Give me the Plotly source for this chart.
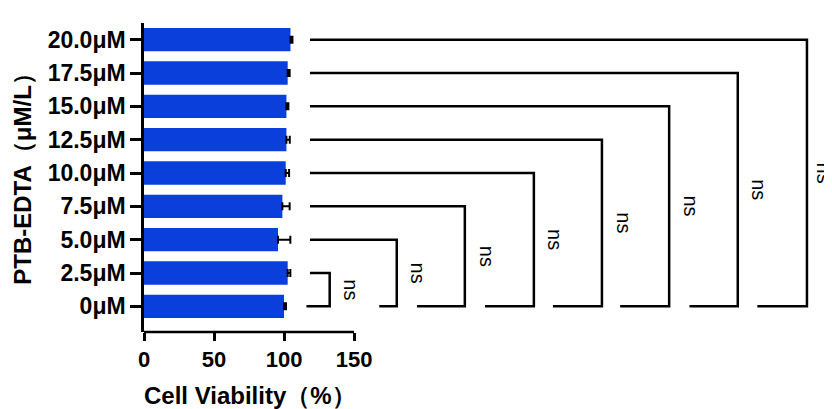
import plotly.graph_objects as go

categories = ["0μM", "2.5μM", "5.0μM", "7.5μM", "10.0μM", "12.5μM", "15.0μM", "17.5μM", "20.0μM"]
viability = [100.0, 102.6, 95.7, 98.8, 101.2, 101.7, 101.7, 102.6, 104.6]
errors = [1.4, 1.9, 8.8, 5.2, 2.4, 2.4, 1.4, 1.4, 1.4]
x_ticks = [0, 50, 100, 150]
sig_labels = ["ns"] * 8

# bracket geometry (x in axis units)
bracket_top_start = 118.5
bracket_right = [132.6, 180.5, 229.1, 278.4, 327.0, 375.0, 424.0, 473.4]
bracket_bottom_start = [116.0, 168.0, 195.0, 243.5, 292.0, 340.0, 389.5, 438.0]
label_offset = [15.5, 15.5, 15.5, 15.5, 15.5, 15.5, 15.5, 12.5]

BLUE = "#0a3fdb"
FONT = "Liberation Sans"

fig = go.Figure()
fig.add_trace(go.Bar(
    y=categories, x=viability, orientation="h", width=0.7,
    marker=dict(color=BLUE, line=dict(width=0)),
    error_x=dict(type="data", symmetric=False, array=errors,
                 arrayminus=[0] * len(errors), color="black", thickness=2, width=4),
    showlegend=False,
))

for k in range(1, len(categories)):
    i = k - 1
    xr = bracket_right[i]
    fig.add_trace(go.Scatter(
        x=[bracket_top_start, xr, xr, bracket_bottom_start[i]],
        y=[categories[k], categories[k], categories[0], categories[0]],
        mode="lines", line=dict(color="black", width=2.5),
        showlegend=False, hoverinfo="skip",
    ))
    fig.add_annotation(
        x=xr + label_offset[i], y=k / 2.0, xref="x", yref="y",
        text=sig_labels[i], textangle=90, showarrow=False,
        font=dict(family=FONT, size=20, color="black"),
        xanchor="center", yanchor="middle",
    )

# x axis line only over 0-150
fig.add_shape(type="line", xref="x", yref="paper", x0=0, x1=150, y0=0, y1=0,
              line=dict(color="black", width=2.5))

fig.add_annotation(
    x=76, y=-0.207, xref="x", yref="paper", yanchor="middle",
    text="Cell Viability（%）", showarrow=False,
    font=dict(family=FONT, size=24, color="black", weight="bold"),
)
fig.add_annotation(
    x=-0.175, y=0.516, xref="paper", yref="paper", xanchor="center", yanchor="middle",
    text="PTB-EDTA（μM/L）", textangle=-90, showarrow=False,
    font=dict(family=FONT, size=24, color="black", weight="bold"),
)

fig.update_layout(
    template="none",
    width=832, height=409,
    margin=dict(l=136, r=0, t=15, b=85),
    plot_bgcolor="white", paper_bgcolor="white",
    xaxis=dict(range=[0, 497], tickvals=x_ticks, showgrid=False, zeroline=False,
               automargin=False,
               showline=False, ticks="outside", ticklen=8, tickwidth=2.5, tickcolor="black",
               tickfont=dict(family=FONT, size=22, color="black", weight="bold")),
    yaxis=dict(type="category", categoryorder="array", categoryarray=categories,
               automargin=False,
               range=[-0.77, 8.5], showgrid=False, zeroline=False,
               showline=True, linewidth=2.5, linecolor="black",
               ticks="outside", ticklen=11, tickwidth=2.5, tickcolor="black",
               tickfont=dict(family=FONT, size=23, color="black", weight="bold")),
)

fig.write_html("out.html")
